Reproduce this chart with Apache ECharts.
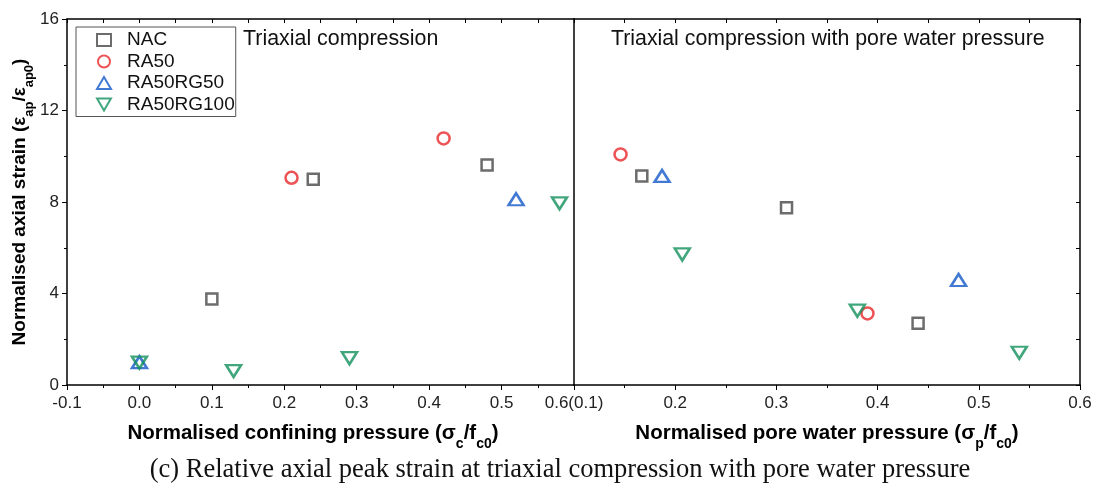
<!DOCTYPE html>
<html>
<head>
<meta charset="utf-8">
<script src="https://cdn.jsdelivr.net/npm/echarts@6/dist/echarts.min.js"></script>
<style>
  html, body { margin: 0; padding: 0; background: #fff; }
  #chart { width: 1101px; height: 494px; }
</style>
</head>
<body>
<div id="chart"></div>
<script>
// Normalised peak axial strain, triaxial compression (x = σc/fc0)
const tcNAC      = [[0.10, 3.76], [0.24, 9.00], [0.48, 9.62]];
const tcRA50     = [[0.21, 9.06], [0.42, 10.78]];
const tcRA50RG50 = [[0.00, 1.00], [0.52, 8.12]];
const tcRA50RG100= [[0.00, 0.98], [0.13, 0.61], [0.29, 1.17], [0.58, 7.94]];

// With pore water pressure (x = σp/fc0)
const pwNAC      = [[0.167, 9.14], [0.31, 7.75], [0.44, 2.70]];
const pwRA50     = [[0.146, 10.08], [0.39, 3.13]];
const pwRA50RG50 = [[0.187, 9.14], [0.48, 4.59]];
const pwRA50RG100= [[0.207, 5.71], [0.38, 3.25], [0.54, 1.41]];

const seriesNames = ['NAC', 'RA50', 'RA50RG50', 'RA50RG100'];
const yTicks = [0, 4, 8, 12, 16];

const FONT = '"Liberation Sans", Arial, sans-serif';
const downTri = 'path://M0,0 L10,0 L5,8.66 Z';
const styles = {
  'NAC':       { symbol: 'rect',     size: 11, color: '#474747' },
  'RA50':      { symbol: 'circle',   size: 12, color: '#e8282b' },
  'RA50RG50':  { symbol: 'triangle', size: [15, 12], color: '#1257c8' },
  'RA50RG100': { symbol: downTri,    size: [15, 12], color: '#12905a' }
};

function scatter(name, data, idx) {
  const s = styles[name];
  return {
    name, type: 'scatter', data,
    xAxisIndex: idx, yAxisIndex: idx,
    symbol: s.symbol, symbolSize: s.size,
    itemStyle: { color: 'rgba(255,255,255,0)', borderColor: s.color, borderWidth: 2.5 },
    emphasis: { disabled: true }
  };
}

const axisLine = { show: true, onZero: false, lineStyle: { color: '#000', width: 1.5 } };
const labelStyle = { color: '#222', fontSize: 17, fontFamily: FONT };
const nameRich = {
  b: { fontSize: 20.5, fontWeight: 'bold', fontFamily: FONT, color: '#000' },
  s: { fontSize: 14, fontWeight: 'bold', fontFamily: FONT, color: '#000', verticalAlign: 'bottom', padding: [0, 0, -7, 0] }
};
const yNameRich = {
  b: { fontSize: 19, fontWeight: 'bold', fontFamily: FONT, color: '#000' },
  s: { fontSize: 13, fontWeight: 'bold', fontFamily: FONT, color: '#000', verticalAlign: 'bottom', padding: [0, 0, -7, 0] }
};

const near = (a, b) => Math.abs(a - b) < 1e-9;

const option = {
  backgroundColor: '#fff',
  animation: false,
  title: {
    text: '(c) Relative axial peak strain at triaxial compression with pore water pressure',
    left: 555, textAlign: 'center', top: 452,
    textStyle: { fontFamily: '"Liberation Serif", "Times New Roman", serif', fontSize: 26.5, fontWeight: 'normal', color: '#111' }
  },
  legend: {
    data: seriesNames,
    orient: 'vertical',
    left: 76, top: 27,
    padding: [3, 1, 2, 20],
    itemGap: 1.5,
    itemWidth: 14, itemHeight: 12,
    borderColor: '#555', borderWidth: 1,
    textStyle: { fontSize: 19, lineHeight: 20, fontFamily: FONT, color: '#111', padding: [0, 0, 0, 11] }
  },
  graphic: [
    { type: 'text', left: 243, top: 29, style: { text: 'Triaxial compression', font: '21.4px ' + FONT, fill: '#111' } },
    { type: 'text', left: 611, top: 29, style: { text: 'Triaxial compression with pore water pressure', font: '21.3px ' + FONT, fill: '#111' } }
  ],
  grid: [
    { left: 67, top: 19, width: 507, height: 366 },
    { left: 574, top: 19, width: 506, height: 366 }
  ],
  xAxis: [
    {
      gridIndex: 0, type: 'value', min: -0.1, max: 0.6, interval: 0.1,
      axisLine, axisTick: { length: 5, lineStyle: { color: '#000' } },
      minorTick: { show: true, splitNumber: 2, length: 3, lineStyle: { color: '#000' } },
      splitLine: { show: false },
      axisLabel: Object.assign({}, labelStyle, {
        margin: 10, showMaxLabel: true, hideOverlap: false,
        formatter: v => near(v, 0.6) ? '0.6(0.1)' : (near(v, 0) ? '0.0' : v.toFixed(1))
      }),
      name: '{b|Normalised confining pressure (σ}{s|c}{b|/f}{s|c0}{b|)}',
      nameLocation: 'middle', nameGap: 38,
      nameTextStyle: { rich: nameRich, padding: [0, 15, 0, 0] }
    },
    {
      gridIndex: 1, type: 'value', min: 0.1, max: 0.6, interval: 0.1,
      axisLine, axisTick: { length: 5, lineStyle: { color: '#000' } },
      minorTick: { show: true, splitNumber: 2, length: 3, lineStyle: { color: '#000' } },
      splitLine: { show: false },
      axisLabel: Object.assign({}, labelStyle, {
        margin: 10, showMinLabel: false,
        formatter: v => v.toFixed(1)
      }),
      name: '{b|Normalised pore water pressure (σ}{s|p}{b|/f}{s|c0}{b|)}',
      nameLocation: 'middle', nameGap: 38,
      nameTextStyle: { rich: nameRich }
    },
    {
      gridIndex: 0, type: 'value', position: 'top', min: -0.1, max: 0.6, interval: 0.05,
      axisLine, axisTick: { inside: true, length: 4, lineStyle: { color: '#000' } },
      axisLabel: { show: false }, splitLine: { show: false }
    },
    {
      gridIndex: 1, type: 'value', position: 'top', min: 0.1, max: 0.6, interval: 0.05,
      axisLine, axisTick: { inside: true, length: 4, lineStyle: { color: '#000' } },
      axisLabel: { show: false }, splitLine: { show: false }
    }
  ],
  yAxis: [
    {
      gridIndex: 0, type: 'value', min: yTicks[0], max: yTicks[yTicks.length - 1], interval: 4,
      axisLine, axisTick: { length: 5, lineStyle: { color: '#000' } },
      minorTick: { show: true, splitNumber: 2, length: 3, lineStyle: { color: '#000' } },
      splitLine: { show: false },
      axisLabel: Object.assign({}, labelStyle, { margin: 8 }),
      name: '{b|Normalised axial strain (ε}{s|ap}{b|/ε}{s|ap0}{b|)}',
      nameLocation: 'middle', nameGap: 36,
      nameTextStyle: { rich: yNameRich }
    },
    {
      gridIndex: 1, type: 'value', min: 0, max: 16, interval: 4,
      axisLine, axisTick: { show: false }, axisLabel: { show: false }, splitLine: { show: false }
    },
    {
      gridIndex: 1, type: 'value', position: 'right', min: 0, max: 16, interval: 2,
      axisLine, axisTick: { inside: true, length: 4, lineStyle: { color: '#000' } },
      axisLabel: { show: false }, splitLine: { show: false }
    }
  ],
  series: [
    scatter('NAC', tcNAC, 0),
    scatter('RA50', tcRA50, 0),
    scatter('RA50RG50', tcRA50RG50, 0),
    scatter('RA50RG100', tcRA50RG100, 0),
    scatter('NAC', pwNAC, 1),
    scatter('RA50', pwRA50, 1),
    scatter('RA50RG50', pwRA50RG50, 1),
    scatter('RA50RG100', pwRA50RG100, 1)
  ]
};

const chart = echarts.init(document.getElementById('chart'), null, { renderer: 'canvas' });
chart.setOption(option);
</script>
</body>
</html>
